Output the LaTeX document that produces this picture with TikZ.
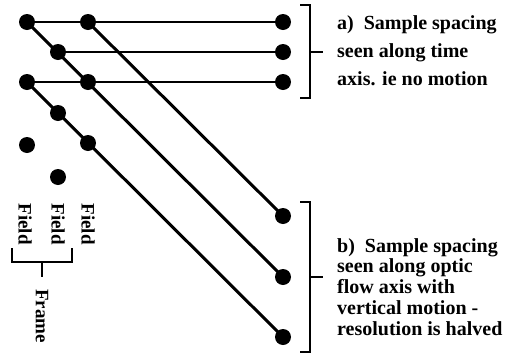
\documentclass[tikz,border=0pt]{standalone}
\usepackage{fontspec}
\setmainfont{Liberation Serif}
\begin{document}
\begin{tikzpicture}[x=1pt,y=-1pt,
  dot/.style={circle,fill=black,inner sep=0pt,minimum size=16pt},
  hline/.style={line width=2.6pt},
  dline/.style={line width=3pt},
  brk/.style={line width=2.2pt},
  lbl/.style={font=\fontsize{20}{24}\selectfont\bfseries,inner sep=0pt,anchor=base west},
  rlbl/.style={font=\fontsize{19}{22}\selectfont\bfseries,inner sep=0pt,rotate=-90}]
\useasboundingbox (0,0) rectangle (507,354);
% dots
\node[dot] (l1) at (27,22) {};
\node[dot] (l2) at (27,82) {};
\node[dot] (l3) at (27,145) {};
\node[dot] (m1) at (58,52) {};
\node[dot] (m2) at (58,113) {};
\node[dot] (m3) at (58,177) {};
\node[dot] (r1) at (88,22) {};
\node[dot] (r2) at (88,82) {};
\node[dot] (r3) at (88,143) {};
\node[dot] (a1) at (283,22) {};
\node[dot] (a2) at (283,52) {};
\node[dot] (a3) at (283,82) {};
\node[dot] (b1) at (283,216) {};
\node[dot] (b2) at (283,277) {};
\node[dot] (b3) at (283,337) {};
% horizontal lines
\draw[hline] (l1.center) -- (a1.center);
\draw[hline] (m1.center) -- (a2.center);
\draw[hline] (l2.center) -- (a3.center);
% diagonal lines
\draw[dline] (r1.center) -- (b1.center);
\draw[dline] (l1.center) -- (b2.center);
\draw[dline] (l2.center) -- (b3.center);
% bracket a
\coordinate (ta) at (323,52);
\draw[brk] (300,5) -- (310,5) -- (310,98) -- (300,98);
\draw[brk] (310,52) -- (ta);
% bracket b
\coordinate (tb) at (323,277);
\draw[brk] (300,202) -- (310,202) -- (310,352) -- (300,352);
\draw[brk] (310,277) -- (tb);
% text a
\node[lbl] (ta1) at (337,29) {a)\ \ Sample spacing};
\node[lbl] (ta2) at (337,57) {seen along time};
\node[lbl] (ta3) at (337,85) {axis. ie no motion};
% text b
\node[lbl] (tb1) at (337,252) {b)\ \ Sample spacing};
\node[lbl] (tb2) at (337,272) {seen along optic};
\node[lbl] (tb3) at (337,293) {flow axis with};
\node[lbl] (tb4) at (337,314) {vertical motion -};
\node[lbl] (tb5) at (337,335) {resolution is halved};
% field labels
\node[rlbl] (f1) at (25,224) {Field};
\node[rlbl] (f2) at (58,224) {Field};
\node[rlbl] (f3) at (88,224) {Field};
% frame brace
\coordinate (fb) at (42,277);
\draw[brk] (12,248) -- (12,262) -- (72,262) -- (72,248);
\draw[brk] (42,262) -- (fb);
\node[rlbl] (fr) at (42,316) {Frame};
\end{tikzpicture}
\end{document}
